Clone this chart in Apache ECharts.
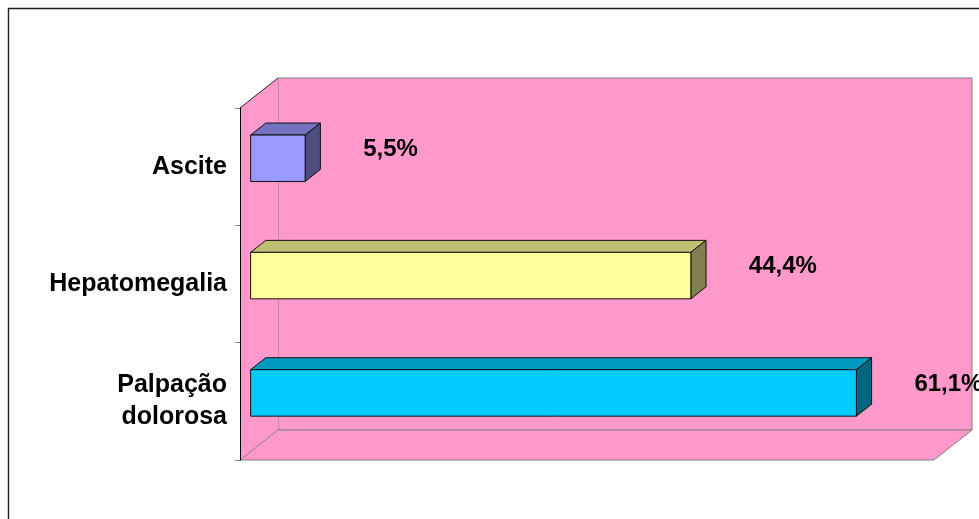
<!DOCTYPE html>
<html>
<head>
<meta charset="utf-8">
<script src="https://cdn.jsdelivr.net/npm/echarts@6/dist/echarts.min.js"></script>
<style>
html,body{margin:0;padding:0;background:#fff;}
#chart{width:979px;height:519px;}
</style>
</head>
<body>
<div id="chart"></div>
<script>
// ---- data ----
const categories = ['Palpação\ndolorosa', 'Hepatomegalia', 'Ascite'];
const values = [61.1, 44.4, 5.5];
const axisMin = 0;
const axisMax = 70;

// ---- styles ----
const barFront = ['#00CCFF', '#FFFF99', '#9999FF'];
const barTop   = ['#0099C0', '#BFBF73', '#7373BF'];
const barSide  = ['#006680', '#808050', '#4D4D80'];
const wallColor = '#FF99CC';
const DX = 38, DY = -30;      // depth of the 3D box
const F0 = 0.28, F1 = 0.68;   // bar depth range (fraction of box depth)
const BAR_FRAC = 0.396;
const FONT = 'Arial, "Liberation Sans", sans-serif';

function fmt(v){ return v.toFixed(1).replace('.', ',') + '%'; }

const chart = echarts.init(document.getElementById('chart'), null, {renderer:'canvas'});

const option = {
  backgroundColor: '#ffffff',
  animation: false,
  graphic: [{
    type: 'rect', silent: true, z: 100,
    shape: {x: 8.5, y: 8.5, width: 1200, height: 1200},
    style: {fill: 'none', stroke: '#222', lineWidth: 1.4}
  }],
  grid: {left: 240, top: 108, width: 694, height: 352, containLabel: false},
  xAxis: {
    type: 'value', min: axisMin, max: axisMax,
    axisLine: {show: false}, axisTick: {show: false},
    axisLabel: {show: false}, splitLine: {show: false}
  },
  yAxis: {
    type: 'category', data: categories, z: 10,
    axisLine: {show: true, lineStyle: {color: '#000', width: 1}},
    axisTick: {show: true, length: 5, lineStyle: {color: '#808080'}},
    splitLine: {show: false},
    axisLabel: {
      margin: 13, color: '#000', fontSize: 25, fontWeight: 'bold',
      fontFamily: FONT, lineHeight: 32, align: 'right'
    }
  },
  series: [
    {
      type: 'custom', name: 'walls', z: 1, silent: true,
      data: [[0, 0]],
      renderItem: function (params, api) {
        const cs = params.coordSys;
        const L = cs.x, T = cs.y, R = cs.x + cs.width, B = cs.y + cs.height;
        return {
          type: 'group',
          children: [
            { type: 'rect', shape: {x: L + DX, y: T + DY, width: cs.width, height: cs.height},
              style: {fill: wallColor, stroke: '#808080', lineWidth: 1} },
            { type: 'polygon', shape: {points: [[L, T], [L + DX, T + DY], [L + DX, B + DY], [L, B]]},
              style: {fill: wallColor, stroke: null} },
            { type: 'polygon', shape: {points: [[L, B], [L + DX, B + DY], [R + DX, B + DY], [R, B]]},
              style: {fill: wallColor, stroke: '#808080', lineWidth: 1} },
            { type: 'line', shape: {x1: L, y1: T, x2: L + DX, y2: T + DY},
              style: {stroke: '#222', lineWidth: 1} }
          ]
        };
      }
    },
    {
      type: 'custom', name: 'bars', z: 3, silent: true,
      data: values.map(function (v, i) { return [v, i]; }),
      encode: {x: 0, y: 1},
      renderItem: function (params, api) {
        const v = api.value(0), ci = api.value(1);
        const idx = params.dataIndex;
        const p0 = api.coord([0, ci]);
        const p1 = api.coord([v, ci]);
        const bandH = api.size([0, 1])[1];
        const h = bandH * BAR_FRAC;
        const fx = DX * F0, fy = DY * F0;
        const dbx = DX * (F1 - F0), dby = DY * (F1 - F0);
        const x0 = p0[0] + fx, x1 = p1[0] + fx, yc = p0[1] + fy;
        const top = yc - h / 2, bot = yc + h / 2;
        const edge = {stroke: '#111', lineWidth: 1, lineJoin: 'round'};
        return {
          type: 'group',
          children: [
            { type: 'polygon', shape: {points: [[x0, top], [x1, top], [x1 + dbx, top + dby], [x0 + dbx, top + dby]]},
              style: Object.assign({fill: barTop[idx]}, edge) },
            { type: 'polygon', shape: {points: [[x1, top], [x1 + dbx, top + dby], [x1 + dbx, bot + dby], [x1, bot]]},
              style: Object.assign({fill: barSide[idx]}, edge) },
            { type: 'rect', shape: {x: x0, y: top, width: x1 - x0, height: h},
              style: Object.assign({fill: barFront[idx]}, edge) },
            { type: 'text', z2: 10,
              style: {x: x1 + 58, y: yc - 9, text: fmt(v), fill: '#000',
                      font: 'bold 24px ' + FONT, align: 'left', verticalAlign: 'middle'} }
          ]
        };
      }
    }
  ]
};
chart.setOption(option);
</script>
</body>
</html>
